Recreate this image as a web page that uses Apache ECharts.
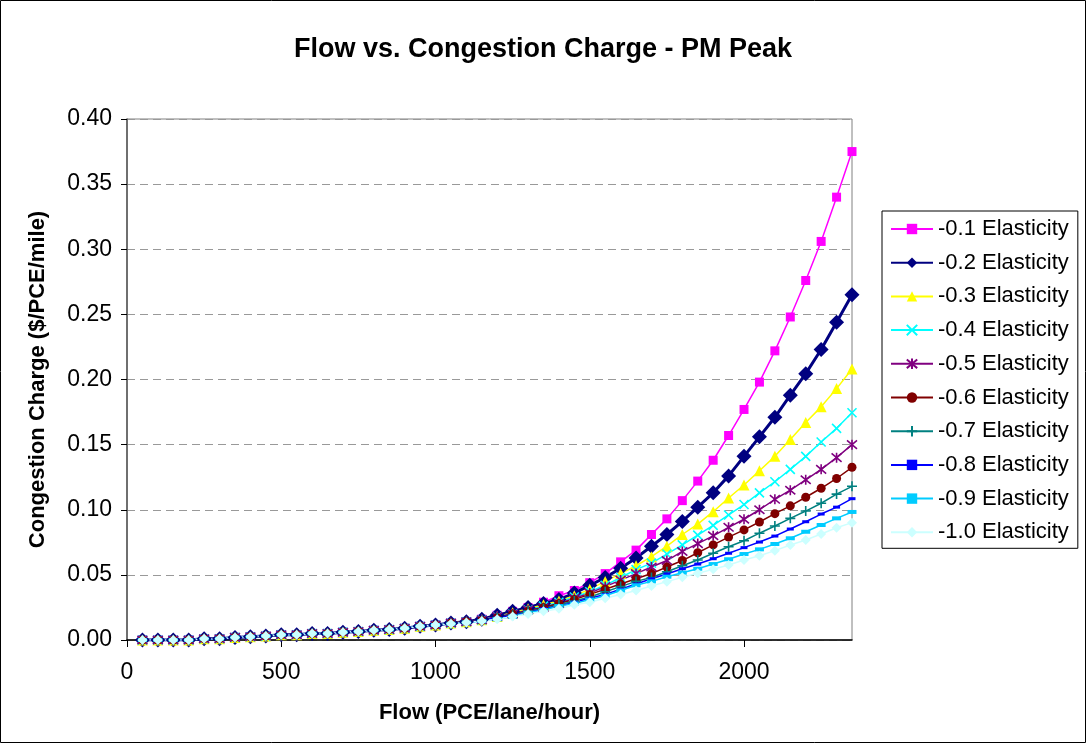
<!DOCTYPE html>
<html>
<head>
<meta charset="utf-8">
<title>Flow vs. Congestion Charge - PM Peak</title>
<script src="https://cdn.jsdelivr.net/npm/echarts@6/dist/echarts.min.js"></script>
<style>
html, body { margin: 0; padding: 0; background: #fff; }
#chart { width: 1086px; height: 743px; }
</style>
</head>
<body>
<div id="chart"></div>
<script>
// flow values on the x axis (PCE/lane/hour)
const flows = [50, 100, 150, 200, 250, 300, 350, 400, 450, 500, 550, 600, 650, 700, 750, 800,
  850, 900, 950, 1000, 1050, 1100, 1150, 1200, 1250, 1300, 1350, 1400, 1450, 1500, 1550, 1600,
  1650, 1700, 1750, 1800, 1850, 1900, 1950, 2000, 2050, 2100, 2150, 2200, 2250, 2300, 2350]

const seriesNames = ['-0.1 Elasticity', '-0.2 Elasticity', '-0.3 Elasticity', '-0.4 Elasticity',
  '-0.5 Elasticity', '-0.6 Elasticity', '-0.7 Elasticity', '-0.8 Elasticity', '-0.9 Elasticity',
  '-1.0 Elasticity']

// congestion charge ($/PCE/mile)
const e01 = [0, 0, 0, 0, 0.001, 0.001, 0.002, 0.0025, 0.003, 0.004, 0.004, 0.005, 0.005, 0.006, 0.0065, 0.0075,
  0.008, 0.009, 0.0105, 0.0115, 0.013, 0.014, 0.016, 0.019, 0.022, 0.025, 0.029, 0.034, 0.038, 0.044, 0.051, 0.060,
  0.069, 0.081, 0.093, 0.107, 0.122, 0.138, 0.157, 0.177, 0.198, 0.222, 0.248, 0.276, 0.306, 0.340, 0.375]
const e02 = [0, 0, 0, 0, 0.001, 0.001, 0.002, 0.0025, 0.003, 0.004, 0.004, 0.005, 0.005, 0.006, 0.0065, 0.0075,
  0.008, 0.009, 0.0105, 0.0115, 0.013, 0.014, 0.016, 0.019, 0.022, 0.025, 0.028, 0.031, 0.036, 0.042, 0.048, 0.055,
  0.063, 0.072, 0.081, 0.091, 0.102, 0.113, 0.126, 0.141, 0.156, 0.171, 0.188, 0.2045, 0.223, 0.244, 0.265]
const e03 = [0, 0, 0, 0, 0.001, 0.001, 0.002, 0.0025, 0.003, 0.004, 0.004, 0.005, 0.005, 0.006, 0.0065, 0.0075,
  0.008, 0.009, 0.0105, 0.0115, 0.013, 0.014, 0.0155, 0.018, 0.021, 0.024, 0.027, 0.030, 0.034, 0.039, 0.045, 0.051,
  0.057, 0.064, 0.072, 0.081, 0.089, 0.0985, 0.109, 0.119, 0.130, 0.141, 0.154, 0.167, 0.179, 0.193, 0.208]
const e04 = [0, 0, 0, 0, 0.001, 0.001, 0.002, 0.0025, 0.003, 0.004, 0.004, 0.005, 0.005, 0.006, 0.0065, 0.0075,
  0.008, 0.009, 0.0105, 0.0115, 0.013, 0.014, 0.0155, 0.018, 0.020, 0.023, 0.026, 0.029, 0.033, 0.037, 0.042, 0.048,
  0.054, 0.059, 0.066, 0.073, 0.0805, 0.088, 0.096, 0.104, 0.113, 0.1215, 0.131, 0.141, 0.152, 0.1625, 0.1745]
const e05 = [0, 0, 0, 0, 0.001, 0.001, 0.002, 0.0025, 0.003, 0.004, 0.004, 0.005, 0.005, 0.006, 0.0065, 0.0075,
  0.008, 0.009, 0.0105, 0.0115, 0.013, 0.014, 0.0155, 0.018, 0.020, 0.023, 0.025, 0.028, 0.032, 0.036, 0.041, 0.046,
  0.051, 0.056, 0.061, 0.068, 0.074, 0.080, 0.0865, 0.0927, 0.100, 0.108, 0.115, 0.123, 0.131, 0.140, 0.150]
const e06 = [0, 0, 0, 0, 0.001, 0.001, 0.002, 0.0025, 0.003, 0.004, 0.004, 0.005, 0.005, 0.006, 0.0065, 0.0075,
  0.008, 0.009, 0.0105, 0.0115, 0.013, 0.014, 0.015, 0.017, 0.020, 0.022, 0.025, 0.028, 0.031, 0.035, 0.039, 0.043,
  0.047, 0.051, 0.056, 0.061, 0.067, 0.073, 0.079, 0.0845, 0.0906, 0.097, 0.103, 0.1096, 0.1165, 0.124, 0.1326]
const e07 = [0, 0, 0, 0, 0.001, 0.001, 0.002, 0.0025, 0.003, 0.004, 0.004, 0.005, 0.005, 0.006, 0.0065, 0.0075,
  0.008, 0.009, 0.0105, 0.0115, 0.0125, 0.0135, 0.015, 0.017, 0.019, 0.022, 0.024, 0.027, 0.030, 0.033, 0.037, 0.041,
  0.045, 0.048, 0.0524, 0.057, 0.0614, 0.0666, 0.0716, 0.0762, 0.082, 0.0875, 0.0934, 0.099, 0.105, 0.112, 0.118]
const e08 = [0, 0, 0, 0, 0.001, 0.001, 0.002, 0.0025, 0.003, 0.004, 0.004, 0.005, 0.005, 0.006, 0.0065, 0.0075,
  0.008, 0.009, 0.0105, 0.0115, 0.0125, 0.0135, 0.015, 0.017, 0.019, 0.021, 0.024, 0.026, 0.029, 0.032, 0.035, 0.039,
  0.043, 0.047, 0.0507, 0.0547, 0.0583, 0.0624, 0.0666, 0.0709, 0.0752, 0.0798, 0.0852, 0.0908, 0.0967, 0.102, 0.1085]
const e09 = [0, 0, 0, 0, 0.001, 0.001, 0.002, 0.0025, 0.003, 0.004, 0.004, 0.005, 0.005, 0.006, 0.0065, 0.0075,
  0.008, 0.009, 0.0105, 0.0115, 0.0125, 0.0135, 0.0145, 0.016, 0.018, 0.021, 0.023, 0.026, 0.028, 0.031, 0.034, 0.038,
  0.042, 0.045, 0.0486, 0.0517, 0.0547, 0.0583, 0.062, 0.066, 0.0696, 0.0737, 0.0781, 0.0831, 0.0883, 0.0934, 0.0983]
const e10 = [0, 0, 0, 0, 0.001, 0.001, 0.002, 0.0025, 0.003, 0.004, 0.004, 0.005, 0.005, 0.006, 0.0065, 0.0075,
  0.008, 0.009, 0.0105, 0.0115, 0.0125, 0.0135, 0.0145, 0.016, 0.018, 0.020, 0.022, 0.024, 0.027, 0.029, 0.032, 0.035,
  0.038, 0.0415, 0.0448, 0.0481, 0.0512, 0.0543, 0.0576, 0.0614, 0.0647, 0.0686, 0.0729, 0.0768, 0.0814, 0.0862, 0.0901]

const allValues = [e01, e02, e03, e04, e05, e06, e07, e08, e09, e10]

// marker shapes like the excel ones
const xMark = 'path://M0,0L10,10M10,0L0,10'
const starMark = 'path://M0,0L10,10M10,0L0,10M5,-1L5,11'
const plusMark = 'path://M5,0L5,10M0,5L10,5'

const styles = [
  { color: '#ff00ff', symbol: 'rect', size: 9, width: 1.5 },
  { color: '#000080', symbol: 'diamond', size: 15, width: 3 },
  { color: '#ffff00', symbol: 'triangle', size: 11, width: 1.5 },
  { color: '#00ffff', symbol: xMark, size: 9, width: 1.5, stroke: true },
  { color: '#800080', symbol: starMark, size: 10, width: 1.5, stroke: true },
  { color: '#800000', symbol: 'circle', size: 9, width: 1.5 },
  { color: '#008080', symbol: plusMark, size: 10, width: 1.5, stroke: true },
  { color: '#0000ff', symbol: 'rect', size: [7, 3], width: 1.5 },
  { color: '#00ccff', symbol: 'rect', size: [9, 4], width: 1.5 },
  { color: '#ccffff', symbol: 'diamond', size: 10, width: 1.5 }
]

const font = 'Liberation Sans, Arial, sans-serif'

const chart = echarts.init(document.getElementById('chart'))

const series = seriesNames.map((name, i) => {
  const st = styles[i]
  return {
    name,
    type: 'line',
    data: flows.map((f, j) => [f, allValues[i][j]]),
    symbol: st.symbol,
    symbolSize: st.size,
    showAllSymbol: true,
    lineStyle: { color: st.color, width: st.width },
    itemStyle: st.stroke
      ? { color: st.color, borderColor: st.color, borderWidth: 1.6 }
      : { color: st.color, borderWidth: 0 },
    emphasis: { disabled: true },
    animation: false
  }
})

chart.setOption({
  animation: false,
  textStyle: { fontFamily: font },
  title: {
    text: 'Flow vs. Congestion Charge - PM Peak',
    left: 'center',
    top: 31,
    textStyle: { fontSize: 27, fontWeight: 'bold', color: '#000', fontFamily: font }
  },
  graphic: [{
    type: 'rect',
    shape: { x: 0.5, y: 0.5, width: 1085, height: 742 },
    style: { fill: 'none', stroke: '#000', lineWidth: 1 },
    silent: true
  }],
  grid: {
    left: 127,
    top: 119,
    width: 725,
    height: 521,
    show: true,
    borderColor: '#808080',
    borderWidth: 1
  },
  legend: {
    orient: 'vertical',
    left: 882,
    top: 211,
    padding: [7, 9, 5, 8],
    itemWidth: 42,
    itemHeight: 13,
    itemGap: 11.7,
    borderColor: '#000',
    borderWidth: 1,
    backgroundColor: '#fff',
    textStyle: { fontSize: 22, color: '#000', fontFamily: font, lineHeight: 22 },
    data: seriesNames
  },
  xAxis: {
    type: 'value',
    min: 0,
    max: 2350,
    interval: 500,
    name: 'Flow (PCE/lane/hour)',
    nameLocation: 'middle',
    nameGap: 62,
    nameTextStyle: { fontSize: 22, fontWeight: 'bold', color: '#000', fontFamily: font },
    axisLine: { show: true, lineStyle: { color: '#000', width: 1.5 } },
    axisTick: { show: true, length: 7, lineStyle: { color: '#000' } },
    axisLabel: {
      fontSize: 23,
      color: '#000',
      margin: 21,
      showMaxLabel: false,
      formatter: v => (v % 500 === 0 ? String(v) : '')
    },
    splitLine: { show: false }
  },
  yAxis: {
    type: 'value',
    min: 0,
    max: 0.4,
    interval: 0.05,
    name: 'Congestion Charge ($/PCE/mile)',
    nameLocation: 'middle',
    nameGap: 78,
    nameTextStyle: { fontSize: 22, fontWeight: 'bold', color: '#000', fontFamily: font },
    axisLine: { show: true, lineStyle: { color: '#555', width: 1.5 } },
    axisTick: { show: true, length: 6, lineStyle: { color: '#000' } },
    axisLabel: {
      fontSize: 23,
      color: '#000',
      margin: 15,
      formatter: v => v.toFixed(2)
    },
    splitLine: { show: true, lineStyle: { color: '#999', type: [8, 5], width: 1 } }
  },
  series
})
</script>
</body>
</html>
